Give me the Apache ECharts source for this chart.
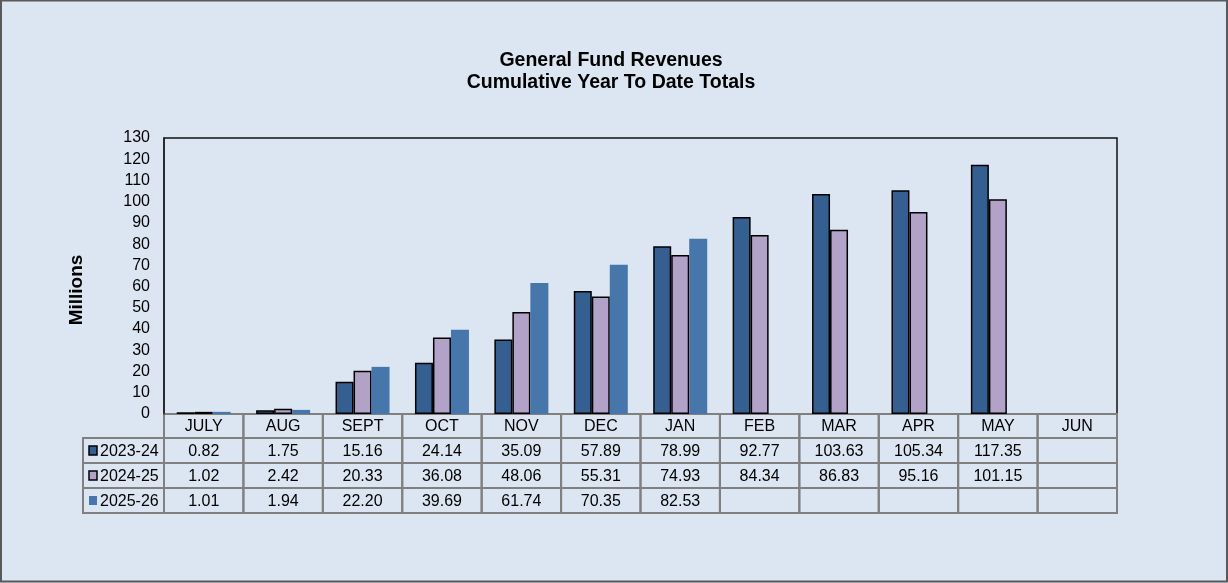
<!DOCTYPE html>
<html>
<head>
<meta charset="utf-8">
<script src="https://cdn.jsdelivr.net/npm/echarts@6/dist/echarts.min.js"></script>
<style>
  html, body { margin: 0; padding: 0; background: #dce6f2; }
  #chart { width: 1228px; height: 583px; }
</style>
</head>
<body>
<div id="chart"></div>
<script>
let months = ['JULY', 'AUG', 'SEPT', 'OCT', 'NOV', 'DEC', 'JAN', 'FEB', 'MAR', 'APR', 'MAY', 'JUN'];
let fy2324 = [0.82, 1.75, 15.16, 24.14, 35.09, 57.89, 78.99, 92.77, 103.63, 105.34, 117.35, null];
let fy2425 = [1.02, 2.42, 20.33, 36.08, 48.06, 55.31, 74.93, 84.34, 86.83, 95.16, 101.15, null];
let fy2526 = [1.01, 1.94, 22.20, 39.69, 61.74, 70.35, 82.53, null, null, null, null, null];
let yTicks = [0, 130, 10]; // min, max, step

let names = ['2023-24', '2024-25', '2025-26'];
let colors = ['#365f91', '#b3a2c7', '#4776ab'];
let borders = ['#000', '#000', null];

// layout
let plotL = 164, plotR = 1117, plotT = 138, plotB = 414;
let colW = (plotR - plotL) / months.length;
let rowH = 25, headL = 83, tableT = 438;
let font = '16px "Liberation Sans", Arial';

let chart = echarts.init(document.getElementById('chart'));

// data table under the plot
let graphic = [];
let rows = [fy2324, fy2425, fy2526];
rows.forEach(function (vals, r) {
  let y = tableT + r * rowH;
  graphic.push({
    type: 'rect', silent: true,
    shape: { x: headL, y: y, width: plotL - headL, height: rowH },
    style: { fill: 'none', stroke: '#808080', lineWidth: 2 }
  });
  graphic.push({
    type: 'rect', silent: true,
    shape: { x: headL + 6, y: y + 8, width: 8, height: 9 },
    style: { fill: colors[r], stroke: borders[r] || 'none', lineWidth: borders[r] ? 1.5 : 0 }
  });
  graphic.push({
    type: 'text', silent: true, x: headL + 17, y: y + rowH / 2 + 1,
    style: { text: names[r], font: font, fill: '#000', verticalAlign: 'middle' }
  });
  vals.forEach(function (v, i) {
    let x = plotL + i * colW;
    graphic.push({
      type: 'rect', silent: true,
      shape: { x: x, y: y, width: colW, height: rowH },
      style: { fill: 'none', stroke: '#808080', lineWidth: 2 }
    });
    if (v != null) {
      graphic.push({
        type: 'text', silent: true, x: x + colW / 2, y: y + rowH / 2 + 1,
        style: { text: v.toFixed(2), font: font, fill: '#000', align: 'center', verticalAlign: 'middle' }
      });
    }
  });
});
// category row boxes
months.forEach(function (m, i) {
  graphic.push({
    type: 'rect', silent: true,
    shape: { x: plotL + i * colW, y: plotB, width: colW, height: tableT - plotB },
    style: { fill: 'none', stroke: '#808080', lineWidth: 2 }
  });
});
// y axis title (sits a bit below the axis middle)
graphic.push({
  type: 'text', silent: true, x: 77, y: 290, rotation: Math.PI / 2,
  style: { text: 'Millions', font: 'bold 19px "Liberation Sans", Arial', fill: '#000', align: 'center', verticalAlign: 'middle' }
});
// outer frame
graphic.push({
  type: 'rect', silent: true, z: -1,
  shape: { x: 1, y: 0.5, width: 1226, height: 581 },
  style: { fill: 'none', stroke: '#595959', lineWidth: 2 }
});

let series = rows.map(function (vals, r) {
  return {
    name: names[r],
    type: 'bar',
    data: vals,
    barWidth: 18,
    barGap: '0%',
    itemStyle: {
      color: colors[r],
      borderColor: borders[r] || colors[r],
      borderWidth: borders[r] ? 1.5 : 0
    }
  };
});

option = {
  backgroundColor: '#dce6f2',
  animation: false,
  title: {
    text: 'General Fund Revenues\nCumulative Year To Date Totals',
    left: 606,
    top: 45,
    textAlign: 'center',
    textStyle: { fontFamily: '"Liberation Sans", Arial', fontSize: 19.5, fontWeight: 'bold', color: '#000', lineHeight: 22 }
  },
  grid: {
    left: plotL, right: 1228 - plotR, top: plotT, bottom: 583 - plotB,
    show: true, borderColor: '#111', borderWidth: 1.5, backgroundColor: 'transparent'
  },
  xAxis: {
    type: 'category',
    data: months,
    axisLine: { show: false },
    axisTick: { show: false },
    axisLabel: { margin: 5, fontFamily: '"Liberation Sans", Arial', fontSize: 16, color: '#000', interval: 0 }
  },
  yAxis: {
    type: 'value',
    min: yTicks[0], max: yTicks[1], interval: yTicks[2],
    axisLine: { show: true, lineStyle: { color: '#222', width: 1.5 } },
    axisTick: { show: false },
    splitLine: { show: false },
    axisLabel: { margin: 14, fontFamily: '"Liberation Sans", Arial', fontSize: 16, color: '#000' }
  },
  series: series,
  graphic: graphic
};

chart.setOption(option);
</script>
</body>
</html>
